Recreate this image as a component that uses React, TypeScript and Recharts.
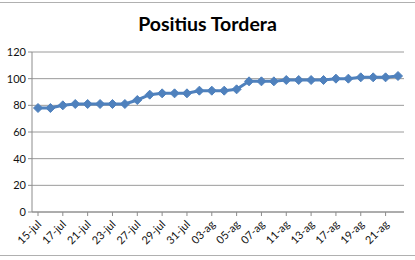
import React from "react";
import { LineChart, Line, CartesianGrid, XAxis, YAxis } from "recharts";

const dates = [
  "15-jul", "16-jul", "17-jul", "19-jul", "21-jul", "22-jul", "23-jul", "25-jul", "27-jul", "28-jul",
  "29-jul", "30-jul", "31-jul", "01-ag", "03-ag", "04-ag", "05-ag", "06-ag", "07-ag", "09-ag",
  "11-ag", "12-ag", "13-ag", "15-ag", "17-ag", "18-ag", "19-ag", "20-ag", "21-ag", "22-ag",
];
const positions = [
  78, 78, 80, 81, 81, 81, 81, 81, 84, 88,
  89, 89, 89, 91, 91, 91, 92, 98, 98, 98,
  99, 99, 99, 99, 100, 100, 101, 101, 101, 102,
];
const yTicks = [0, 20, 40, 60, 80, 100, 120];

const rows = dates.map((d, i) => ({ date: d, value: positions[i] }));

const FONT = "Lato, 'Open Sans', sans-serif";

function Diamond(props: any) {
  const { cx, cy } = props;
  if (cx == null || cy == null) return null;
  const r = 4.5;
  return (
    <polygon
      points={`${cx},${cy - r} ${cx + r},${cy} ${cx},${cy + r} ${cx - r},${cy}`}
      fill="#4F81BD"
      stroke="#4F81BD"
    />
  );
}

function DateTick(props: any) {
  const { x, y, payload } = props;
  return (
    <text
      x={x + 2}
      y={y + 5}
      textAnchor="end"
      fontSize={11}
      fontFamily={FONT}
      fill="#111"
      transform={`rotate(-45, ${x + 2}, ${y + 5})`}
      dominantBaseline="middle"
    >
      {payload.value}
    </text>
  );
}

export default function App() {
  return (
    <div style={{ position: "fixed", left: 0, top: 0, width: 415, height: 260, background: "#fff" }}>
      <div style={{ position: "absolute", left: 0, right: 0, top: 2, height: 0, borderTop: "1px solid #b0b0b0" }} />
      <div style={{ position: "absolute", left: 0, right: 0, top: 255, height: 0, borderTop: "1px solid #b0b0b0" }} />
      <div
        style={{
          position: "absolute", left: 0, width: 415, top: 12, textAlign: "center",
          fontFamily: FONT, fontWeight: 700, fontSize: 19.5, color: "#000",
        }}
      >
        Positius Tordera
      </div>
      <div style={{ position: "absolute", left: 0, top: 0 }}>
        <LineChart width={415} height={260} data={rows} margin={{ top: 52, right: 11, left: 0, bottom: 0 }}>
          <CartesianGrid vertical={false} stroke="#9a9a9a" strokeWidth={1} />
          <XAxis
            dataKey="date"
            interval={1}
            height={48}
            tick={<DateTick />}
            tickSize={4}
            padding={{ left: 6, right: 6 }}
            axisLine={{ stroke: "#8c8c8c" }}
            tickLine={{ stroke: "#8c8c8c" }}
          />
          <YAxis
            domain={[0, 120]}
            ticks={yTicks}
            width={32}
            tickSize={4}
            axisLine={{ stroke: "#8c8c8c" }}
            tickLine={{ stroke: "#8c8c8c" }}
            tick={{ fontSize: 11, fontFamily: FONT, fill: "#111" }}
          />
          <Line
            type="linear"
            dataKey="value"
            stroke="#4F81BD"
            strokeWidth={3}
            dot={<Diamond />}
            activeDot={false}
            isAnimationActive={false}
          />
        </LineChart>
      </div>
    </div>
  );
}
